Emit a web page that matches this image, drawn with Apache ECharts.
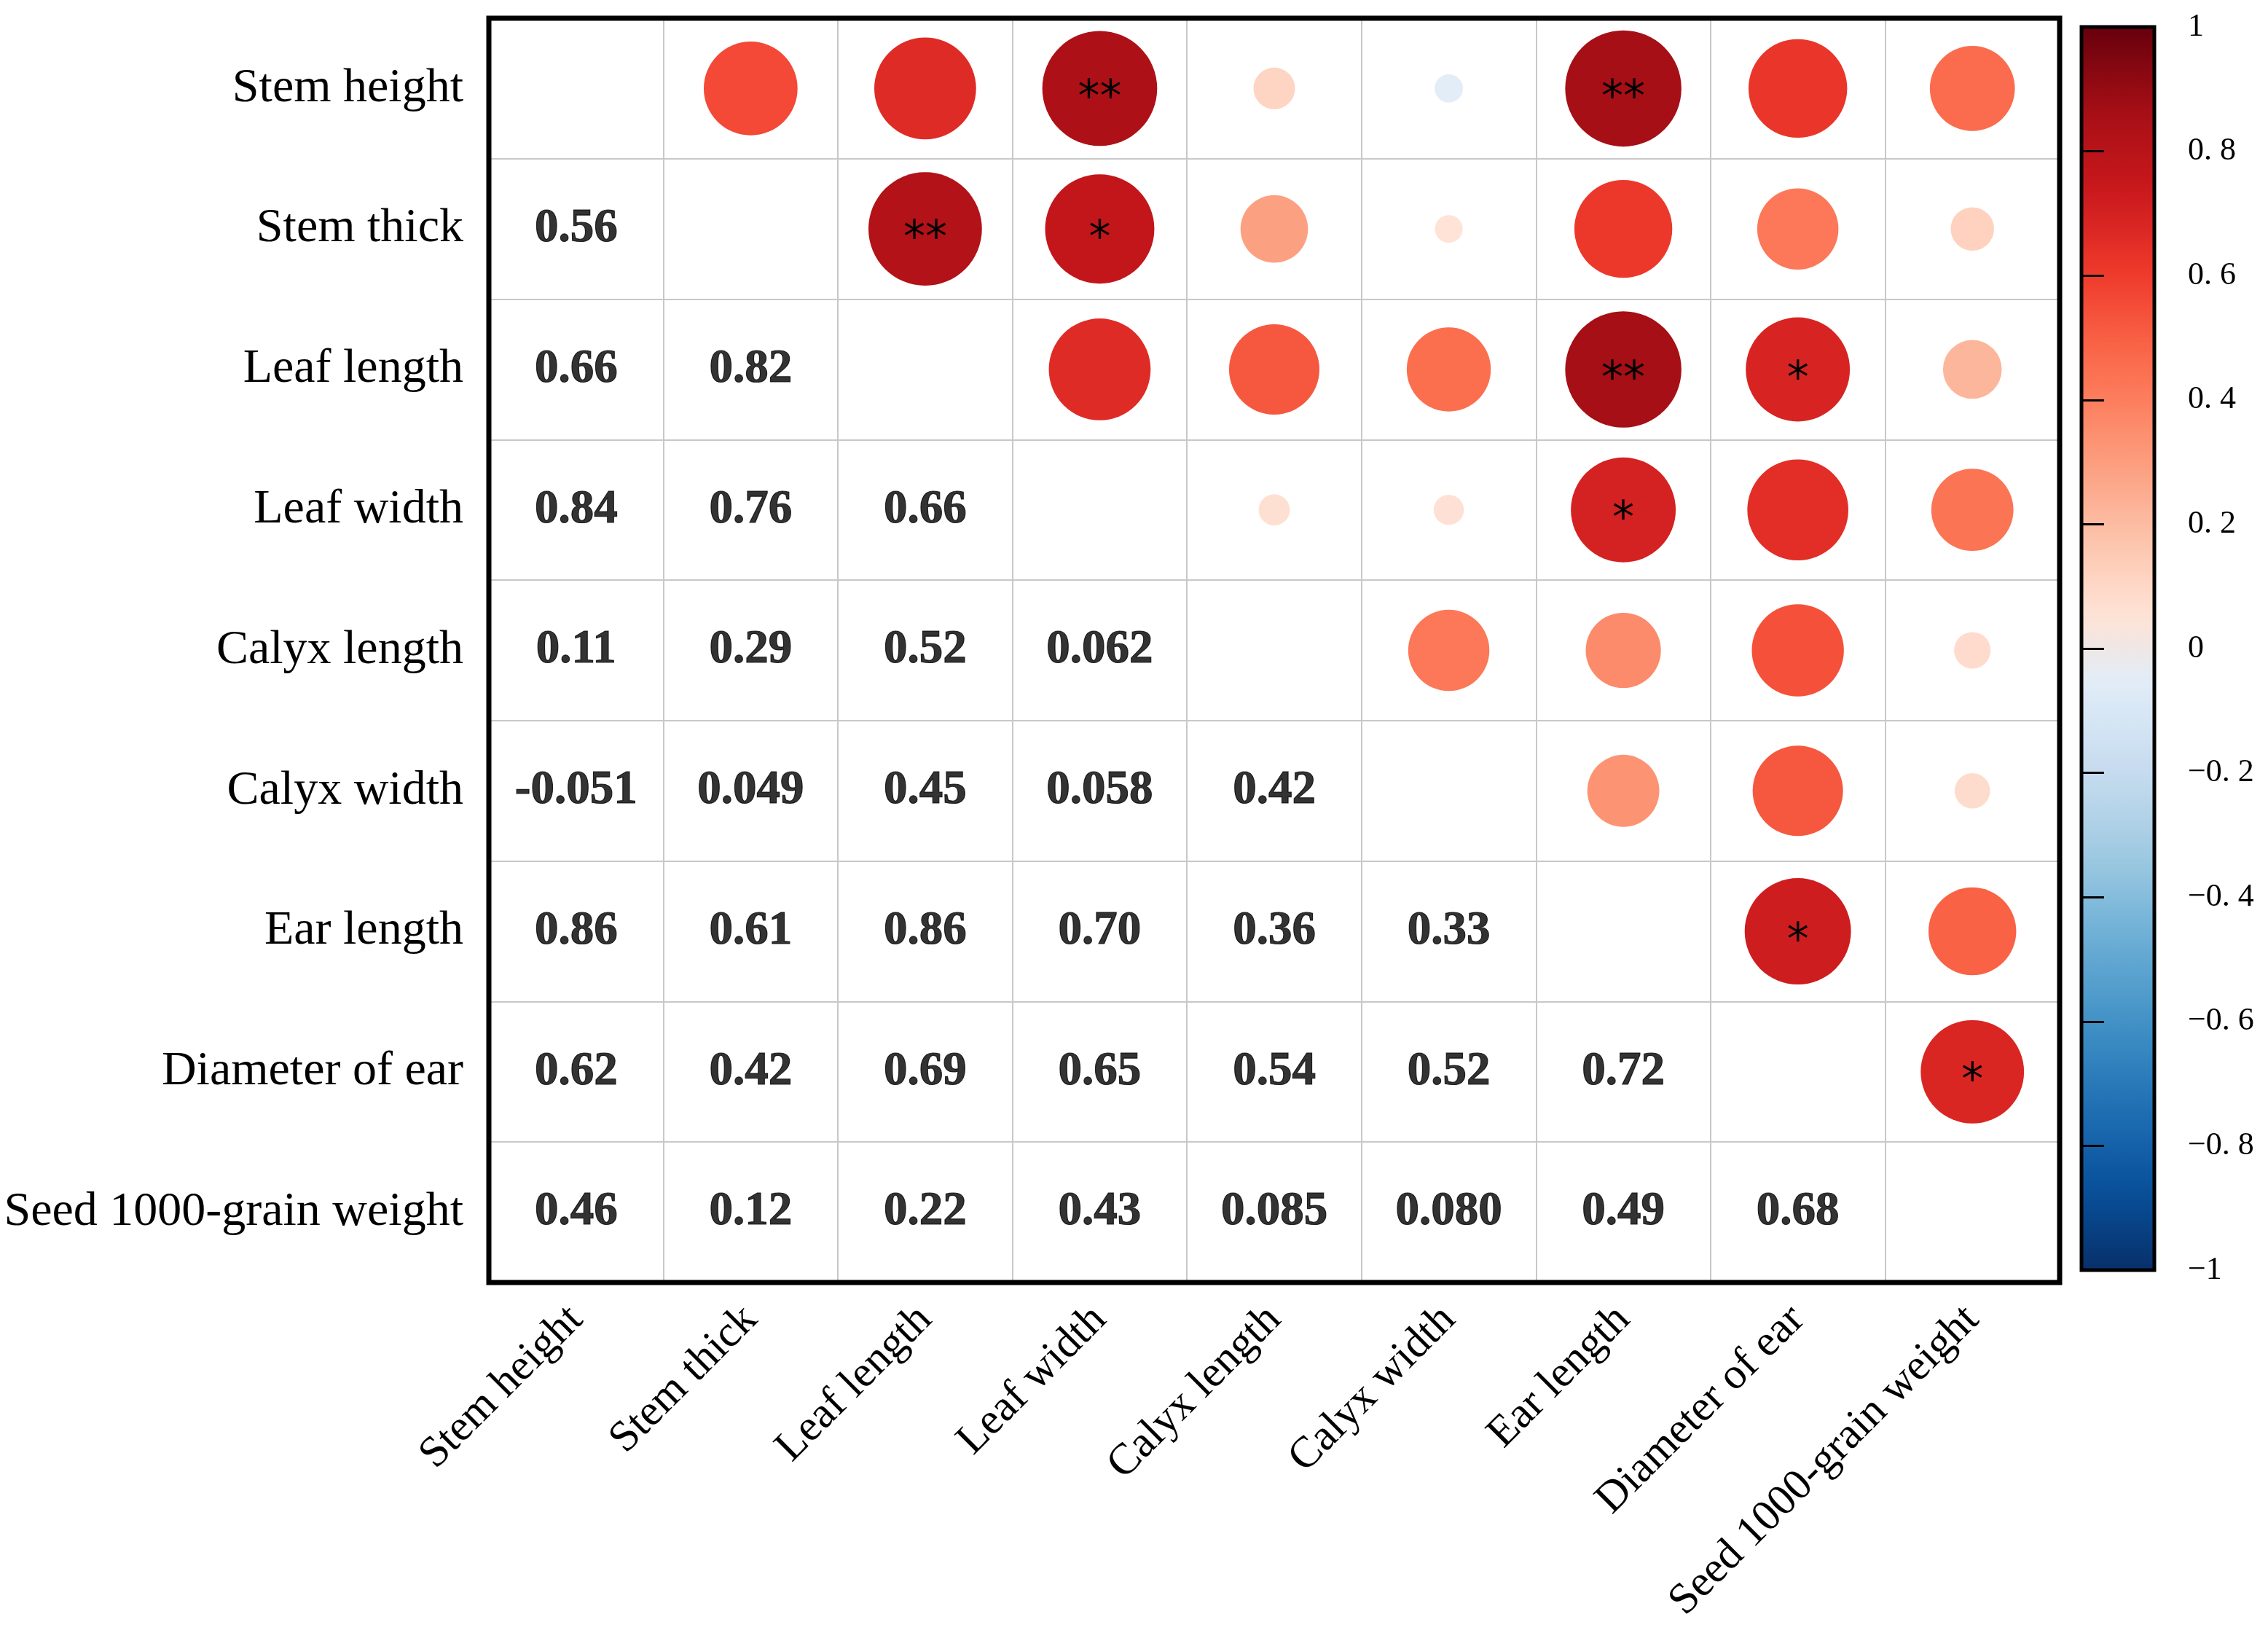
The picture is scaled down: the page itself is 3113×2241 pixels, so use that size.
<!DOCTYPE html>
<html>
<head>
<meta charset="utf-8">
<script src="https://cdn.jsdelivr.net/npm/echarts@6/dist/echarts.min.js"></script>
<style>
html,body{margin:0;padding:0;background:#fff;}
#chart{width:3113px;height:2241px;}
</style>
</head>
<body>
<div id="chart"></div>
<script>
// Trait names (rows top->bottom, columns left->right)
const categories = ['Stem height','Stem thick','Leaf length','Leaf width','Calyx length','Calyx width','Ear length','Diameter of ear','Seed 1000-grain weight'];

// Lower-triangle correlation coefficients (row i, columns 0..i-1)
const corrStemHeight = [];
const corrStemThick = [0.56];
const corrLeafLength = [0.66, 0.82];
const corrLeafWidth = [0.84, 0.76, 0.66];
const corrCalyxLength = [0.11, 0.29, 0.52, 0.062];
const corrCalyxWidth = [-0.051, 0.049, 0.45, 0.058, 0.42];
const corrEarLength = [0.86, 0.61, 0.86, 0.70, 0.36, 0.33];
const corrEarDiameter = [0.62, 0.42, 0.69, 0.65, 0.54, 0.52, 0.72];
const corrSeedWeight = [0.46, 0.12, 0.22, 0.43, 0.085, 0.080, 0.49, 0.68];
const corrRows = [corrStemHeight, corrStemThick, corrLeafLength, corrLeafWidth, corrCalyxLength, corrCalyxWidth, corrEarLength, corrEarDiameter, corrSeedWeight];

// Significance marks for the same lower-triangle cells (shown in the mirrored upper cell)
const sigRows = [
  [],
  [''],
  ['', '**'],
  ['**', '*', ''],
  ['', '', '', ''],
  ['', '', '', '', ''],
  ['**', '', '**', '*', '', ''],
  ['', '', '*', '', '', '', '*'],
  ['', '', '', '', '', '', '', '*']
];

// Colour bar range and tick step
const barMin = -1, barMax = 1, barStep = 0.2;

const circleData = [];
const textData = [];
for (let i = 0; i < categories.length; i++) {
  for (let j = 0; j < i; j++) {
    const r = corrRows[i][j];
    textData.push([j, i, r]);                               // lower triangle: number
    circleData.push({ value: [i, j, r], sig: sigRows[i][j] }); // upper triangle: circle
  }
}

// --- colour scale (Blues / Reds) ---
const redsStops = ['#fff5f0','#fee0d2','#fcbba1','#fc9272','#fb6a4a','#ef3b2c','#cb181d','#a50f15','#67000d'];
const bluesStops = ['#f7fbff','#deebf7','#c6dbef','#9ecae1','#6baed6','#4292c6','#2171b5','#08519c','#08306b'];
function hex2rgb(h){return [parseInt(h.substr(1,2),16),parseInt(h.substr(3,2),16),parseInt(h.substr(5,2),16)];}
function sampleStops(stops, t){
  t = Math.max(0, Math.min(1, t));
  const p = t * (stops.length - 1), k = Math.min(Math.floor(p), stops.length - 2), f = p - k;
  const a = hex2rgb(stops[k]), b = hex2rgb(stops[k + 1]);
  return 'rgb(' + a.map((c, n) => Math.round(c + (b[n] - c) * f)).join(',') + ')';
}
const colors = [];
for (let n = 0; n <= 40; n++) {
  const v = -1 + n * 0.05;
  if (Math.abs(v) < 1e-9) { colors.push('#efe7e6'); continue; }
  const t = 0.06 + 0.94 * Math.abs(v);
  colors.push(sampleStops(v < 0 ? bluesStops : redsStops, t));
}

const serif = '"Liberation Serif", "Times New Roman", serif';

const chart = echarts.init(document.getElementById('chart'));
chart.setOption({
  animation: false,
  backgroundColor: '#fff',
  grid: [
    { left: 671, top: 25, width: 2156, height: 1735, show: true, borderColor: '#000', borderWidth: 7, backgroundColor: 'transparent', z: 5 },
    { left: 2857, top: 37, width: 100, height: 1706, show: true, borderColor: '#000', borderWidth: 5, backgroundColor: 'transparent', z: 10 }
  ],
  xAxis: [
    { type: 'category', data: categories, gridIndex: 0, boundaryGap: true,
      axisLine: { show: false }, axisTick: { show: false },
      splitLine: { show: true, interval: 0, lineStyle: { color: '#c8c8c8', width: 2 } },
      axisLabel: { interval: 0, rotate: 45, margin: 42, fontFamily: serif, fontSize: 60, color: '#000' } },
    { type: 'value', gridIndex: 1, show: false, min: 0, max: 1 }
  ],
  yAxis: [
    { type: 'category', data: categories, gridIndex: 0, inverse: true, boundaryGap: true,
      axisLine: { show: false }, axisTick: { show: false },
      splitLine: { show: true, interval: 0, lineStyle: { color: '#c8c8c8', width: 2 } },
      axisLabel: { interval: 0, margin: 35, fontFamily: serif, fontSize: 66, color: '#000' } },
    { type: 'value', gridIndex: 1, position: 'right', min: barMin, max: barMax, interval: barStep, z: 10,
      axisLine: { show: false },
      axisTick: { show: true, inside: false, length: 31, lineStyle: { color: '#000', width: 3 } },
      splitLine: { show: false },
      axisLabel: { margin: 46, fontFamily: serif, fontSize: 44, color: '#000',
        formatter: function (v) {
          const a = Math.abs(v);
          const s = (Math.abs(a - Math.round(a)) < 1e-9) ? String(Math.round(a)) : a.toFixed(1).replace('.', '. ');
          return (v < -1e-9 ? '\u2212' : '') + s;
        } } }
  ],
  visualMap: {
    type: 'continuous', min: barMin, max: barMax, dimension: 2, seriesIndex: 0,
    calculable: false, orient: 'vertical', left: 2857, top: 37, padding: 0,
    itemWidth: 100, itemHeight: 1706, text: null, showLabel: false,
    inRange: { color: colors }
  },
  series: [
    {
      type: 'scatter', xAxisIndex: 0, yAxisIndex: 0, data: circleData,
      symbol: 'circle',
      symbolSize: function (val) { return 172 * Math.sqrt(Math.abs(val[2])); },
      itemStyle: { opacity: 1 },
      label: { show: true, position: 'inside', fontFamily: '"DejaVu Sans", sans-serif', fontSize: 60, color: '#000', offset: [0, 15],
        formatter: function (p) { return p.data.sig || ''; } },
      z: 3
    },
    {
      type: 'scatter', xAxisIndex: 0, yAxisIndex: 0, data: textData,
      symbolSize: 1, itemStyle: { color: 'rgba(0,0,0,0)' },
      label: { show: true, position: 'inside', fontFamily: serif, fontWeight: 'bold', fontSize: 65, color: '#000',
        textBorderColor: '#000', textBorderWidth: 1.2,
        formatter: function (p) { return p.value[2].toPrecision(2); } },
      z: 3
    }
  ]
});
</script>
</body>
</html>
